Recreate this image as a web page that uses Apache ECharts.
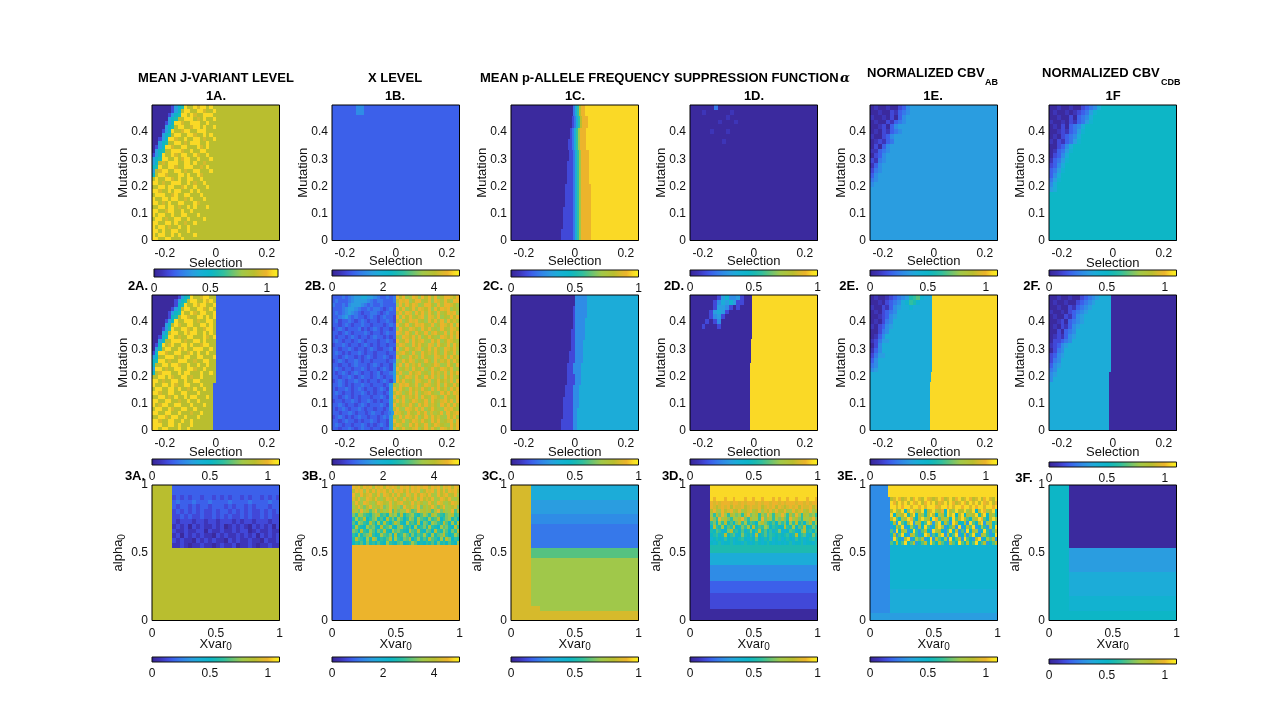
<!DOCTYPE html>
<html>
<head>
  <meta charset="utf-8">
  <title>Parameter sweep panels</title>
  <script src="https://cdn.jsdelivr.net/npm/echarts@6/dist/echarts.min.js"></script>
</head>
<body style="margin:0;background:#fff;">
  <div id="container" style="width:1275px;height:720px;filter:blur(0.6px);"></div>
  <script>
    // tick labels
    var selectionTicks = [-0.2, 0, 0.2];
    var mutationTicks = [0, 0.1, 0.2, 0.3, 0.4];
    var unitTicks = [0, 0.5, 1];
    var xLevelTicks = [0, 2, 4];
    var colorbarMax = [1.1, 5, 1, 1, 1.1, 1.1];

    // Cell values, top row first. Each letter is a level
    // on the colour scale: a = 0 ... u = 1, and a row's cells share its width.
    var grid1A = [
      'aaaaaacgjktqqtrttqtqqqqqqqqqqqqqqqqqqqqq','aaaaaacgjqttqqttrqqtqqqqqqqqqqqqqqqqqqqq','aaaaacgjkttqtrqqtttqqqqqqqqqqqqqqqqqqqqq','aaaaagjkqqtttqrqtqqtqqqqqqqqqqqqqqqqqqqq',
      'aaaacgjttrqqtttqqtqqqqqqqqqqqqqqqqqqqqqq','aaaagjkqttqqrttqtqqtqqqqqqqqqqqqqqqqqqqq','aaacgjtqqrttqqtttqqqqqqqqqqqqqqqqqqqqqqq','aaagjkqttqqttrqqtqtqqqqqqqqqqqqqqqqqqqqq',
      'aacgjttrqqtqqttqrqqtqqqqqqqqqqqqqqqqqqqq','aagjkqqttqrqtttqqtqqqqqqqqqqqqqqqqqqqqqq','acgjttrqqttqqqtrqtqqqqqqqqqqqqqqqqqqqqqq','agjkqqtttrqqtqqttqqqqqqqqqqqqqqqqqqqqqqq',
      'cgjtqqtrqttqqtrqqtqqqqqqqqqqqqqqqqqqqqqq','gjkttqqtqrttqqtqqqtqqqqqqqqqqqqqqqqqqqqq','gjqrqtttqqttqtqqrqqqqqqqqqqqqqqqqqqqqqqq','jktqqttrqqtttqqrqtqqqqqqqqqqqqqqqqqqqqqq',
      'gqrttqqttqrqqttqqqtqqqqqqqqqqqqqqqqqqqqq','jqttrqqqttqtqqtrqqqqqqqqqqqqqqqqqqqqqqqq','qtqqttrqtqqttqqtqqqqqqqqqqqqqqqqqqqqqqqq','ttqrqqtttqqtqrqqtqqqqqqqqqqqqqqqqqqqqqqq',
      'qqttqttqqrtqqtqqqtqqqqqqqqqqqqqqqqqqqqqq','ttrqqtqttqqqtqtqqqqqqqqqqqqqqqqqqqqqqqqq','qtttqqrtqqttqqqtqqqqqqqqqqqqqqqqqqqqqqqq','tqqttqttqqrqtqqqtqqqqqqqqqqqqqqqqqqqqqqq',
      'ttqrqtqqttqqqtrqqqqqqqqqqqqqqqqqqqqqqqqq','qqttqttqrqqtqtqqqtqqqqqqqqqqqqqqqqqqqqqq','ttqqrttqqtqqtqqqqqqqqqqqqqqqqqqqqqqqqqqq','tqttqqtqqttqqqtqqqqqqqqqqqqqqqqqqqqqqqqq',
      'qttqrqqttqqtqqqqtqqqqqqqqqqqqqqqqqqqqqqq','ttqqttqtqqrqqtqqqqqqqqqqqqqqqqqqqqqqqqqq','tqttqrqqtqqtqqqqqqqqqqqqqqqqqqqqqqqqqqqq','ttqtqqttqqqtqqqqqqqqqqqqqqqqqqqqqqqqqqqq',
      'tqttqqtqtqqqqtqqqqqqqqqqqqqqqqqqqqqqqqqq','ttqqttqqqtqqqqqqqqqqqqqqqqqqqqqqqqqqqqqq'
    ];
    var grid1B = [
      'dddfdddddddddddd','d','d','d','d','d','d','d','d','d','d','d','d','d'
    ];
    var grid1C = [
      'aaaaaaaaaaaaaaaaaaaaaaaaaaaaaaaehlqssttttttttttttttttttttttttttt','aaaaaaaaaaaaaaaaaaaaaaaaaaaaaacehlqsssttttttttttttttttttttttttt',
      'aaaaaaaaaaaaaaaaaaaaaaaaaaaaaacehlosssttttttttttttttttttttttttttt','aaaaaaaaaaaaaaaaaaaaaaaaaaaaaccehlosssttttttttttttttttttttttttttt',
      'aaaaaaaaaaaaaaaaaaaaaaaaaaaaaccehlossssttttttttttttttttttttttttt','aaaaaaaaaaaaaaaaaaaaaaaaaaaacccehlossssttttttttttttttttttttttttt',
      'aaaaaaaaaaaaaaaaaaaaaaaaaaaacccehlossssttttttttttttttttttttttttt','aaaaaaaaaaaaaaaaaaaaaaaaaaaccccehlossssstttttttttttttttttttttttt',
      'aaaaaaaaaaaaaaaaaaaaaaaaaaaccccehlossssstttttttttttttttttttttttt','aaaaaaaaaaaaaaaaaaaaaaaaaacccccehlossssstttttttttttttttttttttttt',
      'aaaaaaaaaaaaaaaaaaaaaaaaaacccccehlossssstttttttttttttttttttttttt','aaaaaaaaaaaaaaaaaaaaaaaaaccccccehlossssstttttttttttttttttttttttt'
    ];
    var grid1D = [
      'aaaaaaeaaaaaaaaaaaaaaaaaaaaaaaaa','aaabaaaaaabaaaaaaaaaaaaaaaaaaaaa','aaaaaaaaabaaaaaaaaaaaaaaaaaaaaaa','aaaaaaabaaabaaaaaaaaaaaaaaaaaaaa',
      'a','aaaaabaaabaaaaaaaaaaaaaaaaaaaaaa','a','aaaaaaaabaaaaaaaaaaaaaaaaaaaaaaa',
      'a','a','a','a','a','a','a','a','a','a','a','a','a','a','a','a','a','a','a','a'
    ];
    var grid1E = [
      'abaabaacdfgggggggggggggggggggggg','aabaacbdefgggggggggggggggggggggg','baabacadfggggggggggggggggggggggg','abaacbdefggggggggggggggggggggggg',
      'aabcadfggggggggggggggggggggggggg','abacbdefgggggggggggggggggggggggg','baacdfgggggggggggggggggggggggggg','abcbdegggggggggggggggggggggggggg',
      'acadfggggggggggggggggggggggggggg','bbdefggggggggggggggggggggggggggg','acdfgggggggggggggggggggggggggggg','cbefgggggggggggggggggggggggggggg',
      'bdfggggggggggggggggggggggggggggg','cefggggggggggggggggggggggggggggg','dfgggggggggggggggggggggggggggggg','efgggggggggggggggggggggggggggggg',
      'fggggggggggggggggggggggggggggggg','g','g','g','g','g','g','g','g','g','g','g'
    ];
    var grid1F = [
      'aabaabaacdefhjjjjjjjjjjjjjjjjjjj','abaababcdegijjjjjjjjjjjjjjjjjjjj','aabaacadefhjjjjjjjjjjjjjjjjjjjjj','baabacbdegijjjjjjjjjjjjjjjjjjjjj',
      'abacadefhjjjjjjjjjjjjjjjjjjjjjjj','aabcbdegijjjjjjjjjjjjjjjjjjjjjjj','abacdefhjjjjjjjjjjjjjjjjjjjjjjjj','bacbdegijjjjjjjjjjjjjjjjjjjjjjjj',
      'aacdfhjjjjjjjjjjjjjjjjjjjjjjjjjj','abdegijjjjjjjjjjjjjjjjjjjjjjjjjj','acdfhjjjjjjjjjjjjjjjjjjjjjjjjjjj','bdegijjjjjjjjjjjjjjjjjjjjjjjjjjj',
      'cdfhjjjjjjjjjjjjjjjjjjjjjjjjjjjj','degijjjjjjjjjjjjjjjjjjjjjjjjjjjj','dfhjjjjjjjjjjjjjjjjjjjjjjjjjjjjj','egijjjjjjjjjjjjjjjjjjjjjjjjjjjjj',
      'fhjjjjjjjjjjjjjjjjjjjjjjjjjjjjjj','ghjjjjjjjjjjjjjjjjjjjjjjjjjjjjjj','j','j','j','j','j','j','j','j','j','j'
    ];
    var grid2A = [
      'aaaaaaaacgjktqqrttqqdddddddddddddddddddd','aaaaaaacgjkqttqqtrtqdddddddddddddddddddd','aaaaaaacjktqqtrttqqtdddddddddddddddddddd','aaaaaacgjqttqqttrqtqdddddddddddddddddddd',
      'aaaaacgjktqqtrqttqqtdddddddddddddddddddd','aaaaacjkqttrqqttqtqtdddddddddddddddddddd','aaaacgjtqqtttqrqqttqdddddddddddddddddddd','aaaagjqtrqqttqqttqtqdddddddddddddddddddd',
      'aaacgktqqttrqtqqrttqdddddddddddddddddddd','aaagjqttqqtrttqqtqtqdddddddddddddddddddd','aacjkttqrqqttqqqtrqtdddddddddddddddddddd','aagjqqtttqrqqttqtqqqdddddddddddddddddddd',
      'acjtqrtqqttqtqqrttqqdddddddddddddddddddd','agkqttqqtrtqqtttqqtqdddddddddddddddddddd','cjttrqqttqqrtqtqqtqqdddddddddddddddddddd','gjqqtttqrqttqqttqqqtdddddddddddddddddddd',
      'jkttqrqqtttqqrqqttqqdddddddddddddddddddd','jqqttqttrqqtqqtqqtqqdddddddddddddddddddd','gttqrqqttqqttrqqtqqqdddddddddddddddddddd','jqrtttqqtqttqqqtqqtqdddddddddddddddddddd',
      'qqttqtrqqttqrqqtqqqqdddddddddddddddddddd','ttqrqqttqqtqqttqqqqqdddddddddddddddddddd','tqqttqtrqqttqqqtqqqddddddddddddddddddddd','qttqqttqtqqrqtqqtqqddddddddddddddddddddd',
      'ttrqqttqqttqqqtqqqqddddddddddddddddddddd','qqttqrqtqqtqttqqqtqddddddddddddddddddddd','ttqqttqqrqqtqqtqqqqddddddddddddddddddddd','tqrttqqttqqqtqqqtqqddddddddddddddddddddd',
      'qttqqtrqqttqqtqqqqqddddddddddddddddddddd','ttqqttqqtqqqrqqtqqqddddddddddddddddddddd','qqttrqttqqtqqqtqqqqddddddddddddddddddddd','ttrqqttqqtqqtqqqqqqddddddddddddddddddddd',
      'tttqqttqtqqqtqqqqqqddddddddddddddddddddd','ttqttqqqtqqtqqqqqqqddddddddddddddddddddd'
    ];
    var grid2B = [
      'dddedefgghhggfeddedesqsopsrosqspsoqssrqs','dedddefggggfedeedddeqsrsoqsspqsosrpsqoss','eddedfgggfededdeddddospsqsropssqospssrqo','dddefggfeddedeedcdedsqsoqspsrqsosqsrsoqp',
      'dedefgfedcddeedcdeddqspsrosqspsqospqsrso','ddefgededdcdedcdeddcsosqspqrsosrpsoqpsqs','decddedcdedcddcddedcqsoqsrspqosqspsosqrp','ddcdedcddeddcdddcdedspqsoqsrsqpsoqsrqsos',
      'cdedcdddecdcdedcddcdosqpsrqosqspqosqpsrq','ddcdedcdddedcddcdeddsrpsqosqpsorsqpsosqs','dcddcdedcddcdeddcdcdqosrqspsoqsqposrqsps','dedcddcdedcdddcddedcspqsosqrsposqsoqsrqp',
      'cddedcddcdedcdcddcddqsrposqsqpsrosqpsosq','ddcddedcddcdedccddecsoqspqrsoqspsqosrqsp','dedcdcddedcddcdddcddprsqosposqrpsqosqpso','ddcdeddcdcdedcddedcdsqopsqrosqposrqsosqr',
      'cdedcddedcddcddddcdeopsqsroqpsqosprqspsq','ddcddcdedddcdedcddcgqsosprqsoqpqsropsqos','dedcddcddedcddcdedcgspqrosqpsoqspqsrqsop','dcdedcdedcddcdecddegqsposqrspqosqrpsosqs',
      'ddcddedcdeddcdedcddgsoqsrpsqosqsprosqspq','cdedcddedcdcddcdedcgsqspqosrqpsoqsqrpsos','ddedcdcddeddcdddcdgqosrsqpsoqsrpqsosqpsq','dcddedcdedcddcdedcgspsqosqrpsqospsqrosqs',
      'dedcddcddedcdcddcdgqsroqspsoqrsqposqspsr','ddcdedcdcdddcddedcgsoqsprqsosqpsrqosqpqs','cddcddedcddedcdcddgqspsoqsrpqsosqprsqsos','ddedcddcdedcdddedcgsoqrpsqosqsprqosqspsq',
      'dcdedcddedcddcddcdgqsposrqspsoqsqposrsqp','ddcddedcddcdeddcdegsrqosqpsqsorpqsosqrs','cdedcdcdeddcddcdedgqospsrqsoqspsqrposqsp','ddcdeddcdcddedcddcgspqsoqsrpsqosqspqrsos',
      'dedcddcddedcdcdedcgqsrposqsqpsoqsrqposqs','ddcddedcdeddcddcddgsoqspqrsoqspsqosrqsps'
    ];
    var grid2C = [
      'aaaaaaaaaaaaaaaaaaaaaaaaaaaaaaaaffffffhhhhhhhhhhhhhhhhhhhhhhhhhh','aaaaaaaaaaaaaaaaaaaaaaaaaaaaaaacffffffhhhhhhhhhhhhhhhhhhhhhhhhhh',
      'aaaaaaaaaaaaaaaaaaaaaaaaaaaaaaacfffffhhhhhhhhhhhhhhhhhhhhhhhhhhh','aaaaaaaaaaaaaaaaaaaaaaaaaaaaaaccfffffhhhhhhhhhhhhhhhhhhhhhhhhhhh',
      'aaaaaaaaaaaaaaaaaaaaaaaaaaaaaaccffffhhhhhhhhhhhhhhhhhhhhhhhhhhhh','aaaaaaaaaaaaaaaaaaaaaaaaaaaaacccffffhhhhhhhhhhhhhhhhhhhhhhhhhhhh',
      'aaaaaaaaaaaaaaaaaaaaaaaaaaaacccffffhhhhhhhhhhhhhhhhhhhhhhhhhhhhh','aaaaaaaaaaaaaaaaaaaaaaaaaaaaccccfffhhhhhhhhhhhhhhhhhhhhhhhhhhhhh',
      'aaaaaaaaaaaaaaaaaaaaaaaaaaaccccfffhhhhhhhhhhhhhhhhhhhhhhhhhhhhhh','aaaaaaaaaaaaaaaaaaaaaaaaaacccccfffhhhhhhhhhhhhhhhhhhhhhhhhhhhhhh',
      'aaaaaaaaaaaaaaaaaaaaaaaaaacccccffhhhhhhhhhhhhhhhhhhhhhhhhhhhhhhh','aaaaaaaaaaaaaaaaaaaaaaaaaccccccffhhhhhhhhhhhhhhhhhhhhhhhhhhhhhhh'
    ];
    var grid2D = [
      'aaaaaaacgiffgcaattttttttttttttttt','aaaaaacfhgigccaattttttttttttttttt','aaaaaacggfcacaaattttttttttttttttt','aaaaacghgcaaaaaattttttttttttttttt',
      'aaaaacfgcaaaaaaattttttttttttttttt','aaaacacfaaaaaaaattttttttttttttttt','aaacaaacaaaaaaaattttttttttttttttt','aaaaaaaaaaaaaaaattttttttttttttttt',
      'aaaaaaaaaaaaaaaattttttttttttttttt','aaaaaaaaaaaattttttttttttt','aaaaaaaaaaaattttttttttttt','aaaaaaaaaaaattttttttttttt','aaaaaaaaaaaattttttttttttt','aaaaaaaaaaaattttttttttttt',
      'aaaaaaaaatttttttttt','aaaaaaaaatttttttttt','aaaaaaaaatttttttttt','aaaaaaaaatttttttttt','aaaaaaaaatttttttttt','aaaaaaaaatttttttttt',
      'aaaaaaatttttttt','aaaaaaatttttttt','aaaaaaatttttttt','aaaaaaatttttttt','aaaaaaatttttttt','aaaaaaatttttttt','aaaaaaatttttttt','aaaaaaatttttttt'
    ];
    var grid2E = [
      'abaabcdefgklmihhttttttttttttttttt','aabacdefhilkihhhttttttttttttttttt','baacbdfghhihhhhhttttttttttttttttt','abacdefhhhhhhhhhttttttttttttttttt',
      'aabcdfghhhhhhhhhttttttttttttttttt','abacefhhhhhhhhhhttttttttttttttttt','bacdfghhhhhhhhhhttttttttttttttttt','aacefhhhhhhhhhhhttttttttttttttttt',
      'abdfhhhhhhhhhhhhttttttttttttttttt','bcegghhhhhhhhhhhttttttttttttttttt','acfhhhhhhhhhhhhhttttttttttttttttt','bdfhhhhhhhhhhhhhttttttttttttttttt',
      'cegghhhhhhhhhhhhttttttttttttttttt','dfhhhhhhhhhhhhhhttttttttttttttttt','efhhhhhhhhhhhhhhttttttttttttttttt','fghhhhhhhhhhhhhhttttttttttttttttt',
      'hhhhhhhhhhhhttttttttttttt','hhhhhhhhhhhhttttttttttttt','hhhhhhhhhtttttttttt','hhhhhhhhhtttttttttt','hhhhhhhhhtttttttttt','hhhhhhhhhtttttttttt',
      'hhhhhhhtttttttt','hhhhhhhtttttttt','hhhhhhhtttttttt','hhhhhhhtttttttt','hhhhhhhtttttttt','hhhhhhhtttttttt'
    ];
    var grid2F = [
      'aabaabaacdefghhhaaaaaaaaaaaaaaaaa','abaabaacdefghhhhaaaaaaaaaaaaaaaaa','aabaacbdefghhhhhaaaaaaaaaaaaaaaaa','baabacdefghhhhhhaaaaaaaaaaaaaaaaa',
      'abaacbdfghhhhhhhaaaaaaaaaaaaaaaaa','aabcadefghhhhhhhaaaaaaaaaaaaaaaaa','abacbdfghhhhhhhhaaaaaaaaaaaaaaaaa','aacadefhhhhhhhhhaaaaaaaaaaaaaaaaa',
      'abcbdfghhhhhhhhhaaaaaaaaaaaaaaaaa','accdefhhhhhhhhhhaaaaaaaaaaaaaaaaa','bcdfghhhhhhhhhhhaaaaaaaaaaaaaaaaa','acefhhhhhhhhhhhhaaaaaaaaaaaaaaaaa',
      'cdfghhhhhhhhhhhhaaaaaaaaaaaaaaaaa','cefhhhhhhhhhhhhhaaaaaaaaaaaaaaaaa','dfghhhhhhhhhhhhhaaaaaaaaaaaaaaaaa','efhhhhhhhhhhhhhhaaaaaaaaaaaaaaaaa',
      'fghhhhhhhhhhhhhaaaaaaaaaaaaaaaaa','fhhhhhhhhhhhhhhaaaaaaaaaaaaaaaaa','hhhhhhhhhaaaaaaaaaa','hhhhhhhhhaaaaaaaaaa','hhhhhhhhhaaaaaaaaaa','hhhhhhhhhaaaaaaaaaa',
      'hhhhhhhaaaaaaaa','hhhhhhhaaaaaaaa','hhhhhhhaaaaaaaa','hhhhhhhaaaaaaaa','hhhhhhhaaaaaaaa','hhhhhhhaaaaaaaa'
    ];
    var grid3A = [
      'qqqqqddddddddddddddddddddddddddd','qqqqqddddddddddddddddddddddddddd','qqqqqcdcdcddcddcdcdcddcdcddcdcdc','qqqqqdedddedddeddddeddddeddddedd',
      'qqqqqdcddcdcddcdddcdcddcdcdddcdd','qqqqqcdcdcdcdccdcddcdcdcdccdcdcd','qqqqqccdcdccdccdcdcdccdcdccdcdcc','qqqqqcbcccbccbccbcccbcbccbcccbcc',
      'qqqqqbcbcacbcbbcbcabcbcbacbcbcac','qqqqqcbbcbbccacbbcbbcbccabcbbcbb','qqqqqbcacbcbcbbacbcbbcbcbcacbcbc','qqqqqcbcbbacbcbcbbacbcbbcbbacbbc',
      'qqqqqbbcbabbcbbabcbbcabbcbabbcbb','q','q','q','q','q','q','q','q','q','q','q','q','q','q','q'
    ];
    var grid3B = [
      'dddddddsrsqsrspsrsqsrsrpsrsqsrsrssqsrspsrsqsr','dddddddqsrsosqspsrsqsosrsqspsrsoqsrsosqspsrsq','dddddddsposqrspqsosrqspsqosrpsqsrqsposqrspqso','dddddddrqsopsrqspoqsrpsqosprqsosqrqsopsrqspoq',
      'dddddddpsqosrpoqsrqpsoqrspqosprqopsqosrpoqsrq','dddddddoqspnqsopqrnospqonspqrosnqoqspnqsopqrn','dddddddqpnsoqmpsnqopsmqnposqmnspqoqmpsnqopsmq',
      'dddddddnlqomlknoqlmkpnolqkmnolkmpnlqomlknoqlm','dddddddkolmqjlnokmjqlnkomjlpnkomlkolmqjlnokmj','dddddddmjonlkqmjokpljmqnkjolmkqjnmjonlkqmjokp','dddddddkplkjomnkjqlmokjnplkmjoklnkplkjomnkjql',
      'dddddddnmjqlkomjnlqkjomnlkjpmlqkjnmjqlkomjnlq','dddddddljokmnqljkomlnjqklomjnkmloljokmnqljkom','dddddddkqmljokqnjlkmqjolknmqjlokmkqmljokqnjlk','dddddddjlkmjnkljmkjolkjmnjklomjkjlkmjnkljmkjo',
      'ddsssssssssss','ddsssssssssss','ddsssssssssss','ddsssssssssss','ddsssssssssss','ddsssssssssss','ddsssssssssss','ddsssssssssss','ddsssssssssss','ddsssssssssss',
      'ddsssssssssss','ddsssssssssss','ddsssssssssss','ddsssssssssss','ddsssssssssss','ddsssssssssss','ddsssssssssss','ddsssssssssss','ddsssssssssss'
    ];
    var grid3C = [
      'rrhhhhhhhhhhh','rrhhhhhhhhhhh','rrhhhhhhhhhhh','rrggggggggggg','rrggggggggggg','rrggggggggggg','rrfffffffffff','rrfffffffffff','rreeeeeeeeeee','rreeeeeeeeeee','rreeeeeeeeeee','rreeeeeeeeeee','rreeeeeeeeeee',
      'rrmmmmmmmmmmm','rrmmmmmmmmmmm','rrooooooooooo','rrooooooooooo','rrooooooooooo','rrooooooooooo','rrooooooooooo','rrooooooooooo','rrooooooooooo','rrooooooooooo','rrooooooooooo','rrooooooooooo','rrroooooooooo','r','r'
    ];
    var grid3D = [
      'aattttttttttt','aattttttttttt','aattttttttttt',
      'aaaaaaatstttsttstttsttsttstttststtsttstttstts','aaaaaaasrsrsssrssrsrsssrsrssrssrsrsssrssrsrss','aaaaaaasrqrsrsqsrrsqrsrrsqrsrsqsrqrsrsqsrrsqr',
      'aaaaaaaqsposqrspqsoqrspqsorqspsqqsposqrspqsoq','aaaaaaaolqnsolqpnolqsnoqlpnsolqosolqnsolqpnol','aaaaaaaqnlsoqnlpoqsnlqoplsnqolpnqnlsoqnlpoqsn',
      'aaaaaaalnjolqkmjnqlokmljoqnlkmjnlnjolqkmjnqlo','aaaaaaajqlkojmlqjknlojqkmlonjlkjjqlkojmlqjknl','aaaaaaakjmlijnqkljmiknjlqkmjlikniijmlijnqkljm',
      'aaaaaaajklikqjlmijnkjliqjkmilkjkjklikqjlmijnk','aaaaaaaijkjiljkijkljikjmjikjlijkijkjiljkijklj','aaaaaaajijkijjkijjikjijkjijkjijijijkijjkijjik',
      'aakkkkkkkkkkk','aakkkkkkkkkkk','aahhhhhhhhhhh','aahhhhhhhhhhh','aahhhhhhhhhhh','aafffffffffff','aafffffffffff','aafffffffffff','aafffffffffff',
      'aaddddddddddd','aaddddddddddd','aaddddddddddd','aaccccccccccc','aaccccccccccc','aaccccccccccc','aaccccccccccc','a','a','a'
    ];
    var grid3E = [
      'fftttttttttttt','fftttttttttttt','fftttttttttttt',
      'fffffffqrtsqrtqstrqtsrqrtsqrtqstqrtsqrtqstrqt','ffffffftsqtrtqtsrtqstrtqsrtqtsqrtsqtrtqtsrtqs','fffffffttrtsttrttstrtttsrttstrttsttrtsttrttst',
      'fffffffqtoqtjqtsoqtjqrtoqsjtqotqqtoqtjqtsoqtj','ffffffftjqoqtkqtjqokqtqjoqktqtjqtjqoqtkqtjqok','fffffffqtmjoqtsmjqtoqjtsmqoqjtmqtqmjoqtsmjqto',
      'fffffffjqgtmjqtgoqjmtqgotjqmgtqjjqgtmjqtgoqjm','fffffffgjqmtgjolgqjtmgjqtogjmqgtgjqmtgjolgqjt','fffffffmgtjqogjtlgmqjgtoqjgmtjqgmgtjqogjtlgmq',
      'fffffffjqgmtjgqolgjtqgmjotgqjmtgjqgmtjgqolgjt','fffffffgtmjgqtgjomqgjtgqmjogtjmqgtmjgqtgjomqg','fffffffmjqjmtjmqgjmqjtmjqmjgqmjtmjqjmtjmqgjmq',
      'ffiiiiiiiiiii','ffiiiiiiiiiii','ffiiiiiiiiiii','ffiiiiiiiiiii','ffiiiiiiiiiii','ffiiiiiiiiiii','ffiiiiiiiiiii','ffiiiiiiiiiii','ffiiiiiiiiiii','ffiiiiiiiiiii','ffiiiiiiiiiii',
      'ffhhhhhhhhhhh','ffhhhhhhhhhhh','ffhhhhhhhhhhh','ffhhhhhhhhhhh','ffhhhhhhhhhhh','ffhhhhhhhhhhh','g','g'
    ];
    var grid3F = [
      'jjaaaaaaaaaaa','jjaaaaaaaaaaa','jjaaaaaaaaaaa','jjaaaaaaaaaaa','jjaaaaaaaaaaa','jjaaaaaaaaaaa','jjaaaaaaaaaaa','jjaaaaaaaaaaa','jjaaaaaaaaaaa','jjaaaaaaaaaaa','jjaaaaaaaaaaa','jjaaaaaaaaaaa','jjaaaaaaaaaaa',
      'jjggggggggggg','jjggggggggggg','jjggggggggggg','jjggggggggggg','jjggggggggggg','jjhhhhhhhhhhh','jjhhhhhhhhhhh','jjhhhhhhhhhhh','jjhhhhhhhhhhh','jjhhhhhhhhhhh','jjiiiiiiiiiii','jjiiiiiiiiiii','jjiiiiiiiiiii','j','j'
    ];
    var panelGrids = [
      [grid1A, grid1B, grid1C, grid1D, grid1E, grid1F],
      [grid2A, grid2B, grid2C, grid2D, grid2E, grid2F],
      [grid3A, grid3B, grid3C, grid3D, grid3E, grid3F]
    ];

    var levelCodes = 'abcdefghijklmnopqrstu';
    var colormap = ['#3b2a9e', '#3d35b8', '#4148d8', '#3c60ea', '#3678ea', '#2f8ce6', '#2a9de0',
      '#1cacd8', '#12b2d0', '#0db6c6', '#1dbab0', '#30bfa0', '#55c280', '#7cc468',
      '#a0c84a', '#aec43c', '#b9be2f', '#d6ba2c', '#ecb42c', '#fad926', '#f8f51c'];

    // layout
    var plotLeft = [152, 332, 511, 690, 870, 1049];
    var plotWidth = 127.5;
    var plotTop = [105, 295, 485];
    var plotHeight = 135.5;
    var barTop = [[269, 270, 270, 270, 270, 270], [459, 459, 459, 459, 459, 462], [657, 657, 657, 657, 657, 659]];
    var barHeight = [[8, 6, 7, 6, 6, 6], [6, 6, 6, 6, 6, 5], [5, 5, 5, 5, 5, 5]];
    var textFont = 'Liberation Sans, Arial, sans-serif';

    var container = document.getElementById('container');
    var myChart = echarts.init(container, null, { renderer: 'canvas' });

    function cellData(rows, xMin, xMax, yMin, yMax) {
      var out = [];
      var rowH = (yMax - yMin) / rows.length;
      rows.forEach(function (row, r) {
        var colW = (xMax - xMin) / row.length;
        for (var c = 0; c < row.length; c++) {
          out.push([xMin + c * colW, yMax - r * rowH, xMin + (c + 1) * colW, yMax - (r + 1) * rowH,
            levelCodes.indexOf(row[c]) / 20]);
        }
      });
      return out;
    }

    // cells snap to whole pixels so no seams show between them
    function renderCell(params, api) {
      var a = api.coord([api.value(0), api.value(1)]);
      var b = api.coord([api.value(2), api.value(3)]);
      var x = Math.round(a[0]), y = Math.round(a[1]);
      return {
        type: 'rect',
        shape: { x: x, y: y, width: Math.round(b[0]) - x, height: Math.round(b[1]) - y },
        style: { fill: colormap[Math.round(api.value(4) * 20)] }
      };
    }

    function renderBox(params, api) {
      var a = api.coord([api.value(0), api.value(1)]);
      var b = api.coord([api.value(2), api.value(3)]);
      return {
        type: 'rect',
        shape: { x: a[0], y: a[1], width: b[0] - a[0], height: b[1] - a[1] },
        style: { fill: 'none', stroke: '#000', lineWidth: 1 }
      };
    }

    function renderBar(params, api) {
      var a = api.coord([api.value(0), 0]);
      var b = api.coord([api.value(1), 1]);
      var stops = [{ offset: 0, color: '#1a1288' }];
      colormap.forEach(function (c, i) { stops.push({ offset: 0.02 + 0.98 * i / 20, color: c }); });
      return {
        type: 'rect',
        shape: { x: a[0], y: b[1], width: b[0] - a[0], height: a[1] - b[1] },
        style: { fill: new echarts.graphic.LinearGradient(0, 0, 1, 0, stops), stroke: '#111', lineWidth: 1 }
      };
    }

    var grids = [], xAxes = [], yAxes = [], series = [];
    var labelStyle = { color: '#111', fontSize: 12, fontFamily: textFont };
    var subStyle = { s: { fontSize: 10, fontFamily: textFont, color: '#111', verticalAlign: 'bottom', padding: [7, 0, 0, 0] } };

    function customSeries(index, render, data, z) {
      return {
        type: 'custom', xAxisIndex: index, yAxisIndex: index, renderItem: render, data: data,
        encode: { x: [0, 2], y: [1, 3] }, silent: true, clip: false, z: z, progressive: 0, animation: false
      };
    }

    panelGrids.forEach(function (rowGrids, row) {
      rowGrids.forEach(function (rows, col) {
        var sweep = row < 2;
        var xRange = sweep ? [-0.25, 0.25] : [0, 1];
        var yRange = sweep ? [0, 0.5] : [0, 1];
        var xTicks = sweep ? selectionTicks : unitTicks;
        var yTicks = sweep ? mutationTicks : unitTicks;
        var nameGapX = row === 0 ? (col === 0 || col === 5 ? 16 : 14) : 15;

        // the image panel
        var index = grids.length;
        grids.push({ left: plotLeft[col], top: plotTop[row], width: plotWidth, height: plotHeight, outerBoundsMode: 'none', containLabel: false });
        xAxes.push({
          gridIndex: index, type: 'value', min: xRange[0], max: xRange[1],
          name: sweep ? 'Selection' : 'Xvar{s|0}', nameLocation: 'middle', nameGap: nameGapX, nameMoveOverlap: false,
          nameTextStyle: { color: '#111', fontSize: 13, fontFamily: textFont, rich: subStyle },
          axisLine: { show: false }, splitLine: { show: false },
          axisTick: { inside: true, length: 2, customValues: xTicks, lineStyle: { color: '#000' } },
          axisLabel: Object.assign({ margin: 7, customValues: xTicks, formatter: function (v) { return String(v); } }, labelStyle)
        });
        yAxes.push({
          gridIndex: index, type: 'value', min: yRange[0], max: yRange[1],
          name: sweep ? 'Mutation' : 'alpha{s|0}', nameLocation: 'middle', nameGap: sweep ? 22 : 25, nameMoveOverlap: false,
          nameTextStyle: { color: '#111', fontSize: 13, fontFamily: textFont, rich: subStyle },
          axisLine: { show: false }, splitLine: { show: false },
          axisTick: { inside: true, length: 2, customValues: yTicks, lineStyle: { color: '#000' } },
          axisLabel: Object.assign({ margin: 4, customValues: yTicks, formatter: function (v) { return String(v); } }, labelStyle)
        });
        series.push(customSeries(index, renderCell, cellData(rows, xRange[0], xRange[1], yRange[0], yRange[1]), 2));
        series.push(customSeries(index, renderBox, [[xRange[0], yRange[1], xRange[1], yRange[0]]], 3));

        // its colour bar
        var barIndex = grids.length;
        var barMax = colorbarMax[col];
        var barTicks = col === 1 ? xLevelTicks : unitTicks;
        var narrow = row === 0 && col === 0;
        grids.push({
          left: plotLeft[col] + (narrow ? 2 : 0), top: barTop[row][col], width: narrow ? 124 : plotWidth,
          height: barHeight[row][col], outerBoundsMode: 'none', containLabel: false
        });
        xAxes.push({
          gridIndex: barIndex, type: 'value', min: 0, max: barMax,
          axisLine: { show: false }, axisTick: { show: false }, splitLine: { show: false },
          axisLabel: Object.assign({ margin: 6, customValues: barTicks, formatter: function (v) { return String(v); } }, labelStyle)
        });
        yAxes.push({ gridIndex: barIndex, type: 'value', min: 0, max: 1, show: false });
        series.push(customSeries(barIndex, renderBar, [[0, barMax]], 2));
      });
    });

    function label(text, x, y, align, font) {
      return { type: 'text', x: x, y: y, silent: true, style: { text: text, font: font || '700 13px ' + textFont, fill: '#000', textAlign: align || 'center', textVerticalAlign: 'middle' } };
    }

    var titles = [
      label('MEAN J-VARIANT LEVEL', 216, 78), label('X LEVEL', 395, 78),
      label('MEAN p-ALLELE FREQUENCY', 575, 78), label('SUPPRESSION FUNCTION', 674, 78, 'left'),
      label('α', 845, 79, 'center', 'italic 700 13px DejaVu Serif'),
      label('NORMALIZED CBV', 867, 73, 'left'), label('AB', 985, 83, 'left', '700 9px ' + textFont),
      label('NORMALIZED CBV', 1042, 73, 'left'), label('CDB', 1161, 83, 'left', '700 9px ' + textFont),
      label('1A.', 216, 96), label('1B.', 395, 96), label('1C.', 575, 96), label('1D.', 754, 96), label('1E.', 933, 96), label('1F', 1113, 96),
      label('2A.', 138, 286), label('2B.', 315, 286), label('2C.', 493, 286), label('2D.', 674, 286), label('2E.', 849, 286), label('2F.', 1032, 286),
      label('3A.', 135, 476), label('3B.', 312, 476), label('3C.', 492, 476), label('3D.', 672, 476), label('3E.', 847, 476), label('3F.', 1024, 478)
    ];

    myChart.setOption({
      animation: false,
      grid: grids,
      xAxis: xAxes,
      yAxis: yAxes,
      series: series,
      graphic: { elements: titles }
    });

    window.addEventListener('resize', myChart.resize);
  </script>
</body>
</html>
